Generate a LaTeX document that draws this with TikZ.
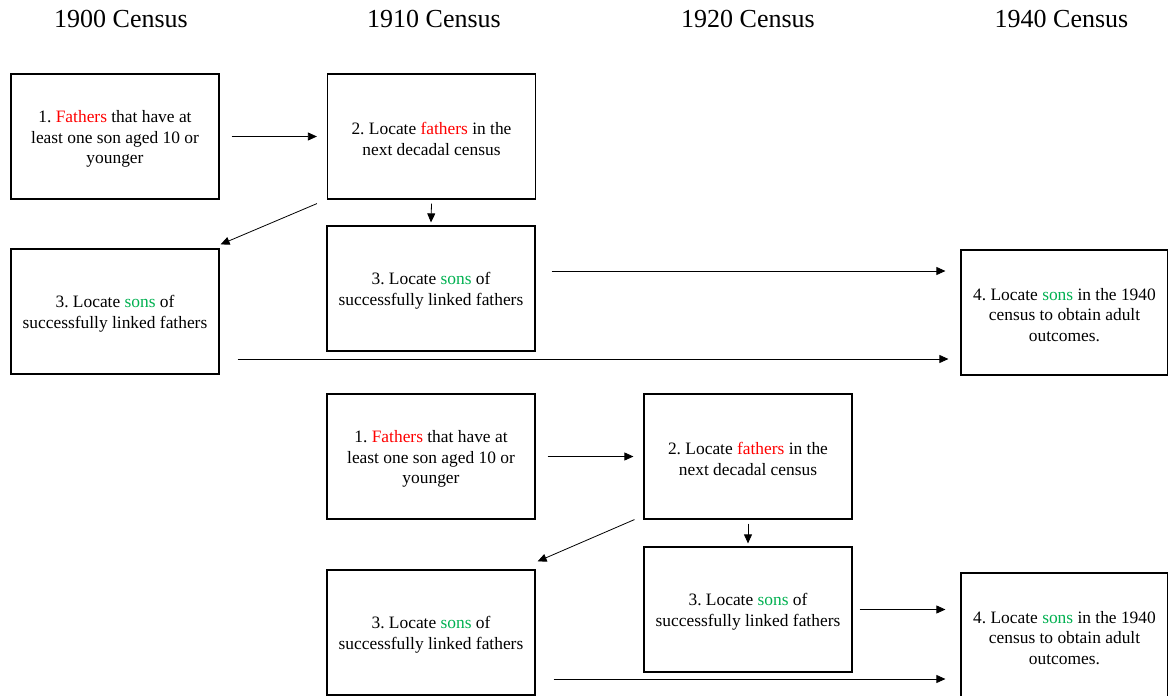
\documentclass[tikz,border=0pt]{standalone}
\usepackage{fontspec}
\setmainfont{Liberation Serif}
\usetikzlibrary{arrows.meta}
\definecolor{fred}{RGB}{255,0,0}
\definecolor{fgreen}{RGB}{0,176,80}
\newcommand\topstrut{\rule{0pt}{17pt}}
\frenchspacing
\begin{document}
\begin{tikzpicture}[x=1pt,y=1pt,
 box/.style={draw, line width=1.2pt, minimum width=208pt, minimum height=125pt, inner sep=0pt, align=center, font=\rmfamily\fontsize{17.4}{20.5}\selectfont},
 head/.style={font=\rmfamily\fontsize{26}{30}\selectfont},
 arr/.style={line width=0.8pt, -{Triangle[length=9pt,width=8pt]}}]
\useasboundingbox (0,0) rectangle (1168,-696);
% headings
\node[head] (h1) at (121,-19) {1900 Census};
\node[head] (h2) at (434,-19) {1910 Census};
\node[head] (h3) at (748,-19) {1920 Census};
\node[head] (h4) at (1061.5,-19) {1940 Census};
% top group
\node[box] (A1) at (115,-136.5) {\topstrut 1. \textcolor{fred}{Fathers} that have at\\least one son aged 10 or\\younger};
\node[box] (A2) at (431.5,-136.5) {\topstrut 2. Locate \textcolor{fred}{fathers} in the\\next decadal census};
\node[box] (A3) at (115,-311.5) {\topstrut 3. Locate \textcolor{fgreen}{sons} of\\successfully linked fathers};
\node[box] (A4) at (431,-288.5) {\topstrut 3. Locate \textcolor{fgreen}{sons} of\\successfully linked fathers};
\node[box, minimum width=207pt] (A5) at (1064.5,-312.5) {\topstrut 4. Locate \textcolor{fgreen}{sons} in the 1940\\census to obtain adult\\outcomes.};
% bottom group
\node[box] (B1) at (431,-456.5) {\topstrut 1. \textcolor{fred}{Fathers} that have at\\least one son aged 10 or\\younger};
\node[box] (B2) at (748,-456.5) {\topstrut 2. Locate \textcolor{fred}{fathers} in the\\next decadal census};
\node[box] (B3) at (431,-632.5) {\topstrut 3. Locate \textcolor{fgreen}{sons} of\\successfully linked fathers};
\node[box] (B4) at (748,-609.5) {\topstrut 3. Locate \textcolor{fgreen}{sons} of\\successfully linked fathers};
\node[box, minimum width=207pt] (B5) at (1064.5,-635.5) {\topstrut 4. Locate \textcolor{fgreen}{sons} in the 1940\\census to obtain adult\\outcomes.};
% top arrows
\draw[arr] ([xshift=12pt]A1.east) -- ([xshift=-10pt]A2.west);
\draw[arr] ([yshift=-4pt]A2.south) -- ([yshift=3pt]A4.north);
\draw[arr] ([shift={(-10pt,-4pt)}]A2.south west) -- ([shift={(1pt,4pt)}]A3.north east);
\draw[arr] ([shift={(16pt,17.5pt)}]A4.east) -- ([shift={(-15pt,41.5pt)}]A5.west);
\draw[arr] ([shift={(18pt,-47.5pt)}]A3.east) -- ([shift={(-12pt,-46.5pt)}]A5.west);
% bottom arrows
\draw[arr] ([xshift=12pt]B1.east) -- ([xshift=-10pt]B2.west);
\draw[arr] ([yshift=-4pt]B2.south) -- ([yshift=3pt]B4.north);
\draw[arr] ([shift={(-9pt,0pt)}]B2.south west) -- ([shift={(2pt,8pt)}]B3.north east);
\draw[arr] ([xshift=7pt]B4.east) -- ([xshift=-15pt]B4.east -| B5.west);
\draw[arr] ([shift={(18pt,-46.5pt)}]B3.east) -- ([shift={(-15pt,-43.5pt)}]B5.west);
\end{tikzpicture}
\end{document}
